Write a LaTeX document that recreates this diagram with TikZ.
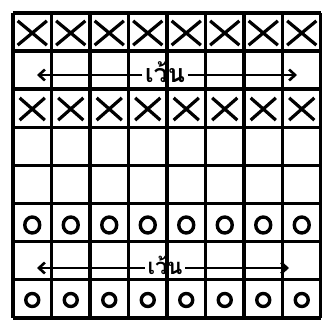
\documentclass[tikz,border=0pt]{standalone}
\usepackage{fontspec}
\newfontfamily\thaifont[Script=Thai]{Loma}
\usetikzlibrary{shapes.misc, shapes.geometric, arrows.meta}

\begin{document}
\begin{tikzpicture}[x=1pt, y=-1pt, line width=3.5pt,
  xmark/.style={cross out, draw, minimum width=26pt, minimum height=21pt, inner sep=0pt, line width=3.2pt},
  omark/.style={ellipse, draw, minimum width=15pt, minimum height=16pt, inner sep=0pt, line width=3.4pt},
  skiplabel/.style={inner sep=1pt, font=\thaifont\bfseries\fontsize{25}{25}\selectfont},
  skiparrow/.style={line width=2.6pt, -{Straight Barb[length=6pt, width=11pt]}}]
  \useasboundingbox (0,0) rectangle (322,322);
  % grid
  \foreach \i in {0,...,8} {
    \draw (13+38.5*\i,13) -- (13+38.5*\i,318);
    \draw (13,13+38.1*\i) -- (321,13+38.1*\i);
  }
  % marks
  \foreach \i in {1,...,8} {
    \node[xmark] (xa\i) at (13+38.5*\i-19.25,33) {};
    \node[xmark, minimum width=22pt, minimum height=19pt] (xb\i) at (13+38.5*\i-19.25,109) {};
    \node[omark] (oa\i) at (13+38.5*\i-19.25,225) {};
    \node[omark, minimum width=13pt, minimum height=13pt] (ob\i) at (13+38.5*\i-19.25,300) {};
  }
  % skip rows
  \node[skiplabel] (skipa) at (165,72) {เว้น};
  \coordinate (skipaL) at (37,75);
  \coordinate (skipaR) at (297,75);
  \draw[skiparrow] (skipa.west |- skipaL) -- (skipaL);
  \draw[skiparrow] (skipa.east |- skipaR) -- (skipaR);
  \node[skiplabel, font=\thaifont\bfseries\fontsize{22}{22}\selectfont] (skipb) at (165,265) {เว้น};
  \coordinate (skipbL) at (37,268);
  \coordinate (skipbR) at (289,268);
  \draw[skiparrow] (skipb.west |- skipbL) -- (skipbL);
  \draw[skiparrow] (skipb.east |- skipbR) -- (skipbR);
\end{tikzpicture}
\end{document}
